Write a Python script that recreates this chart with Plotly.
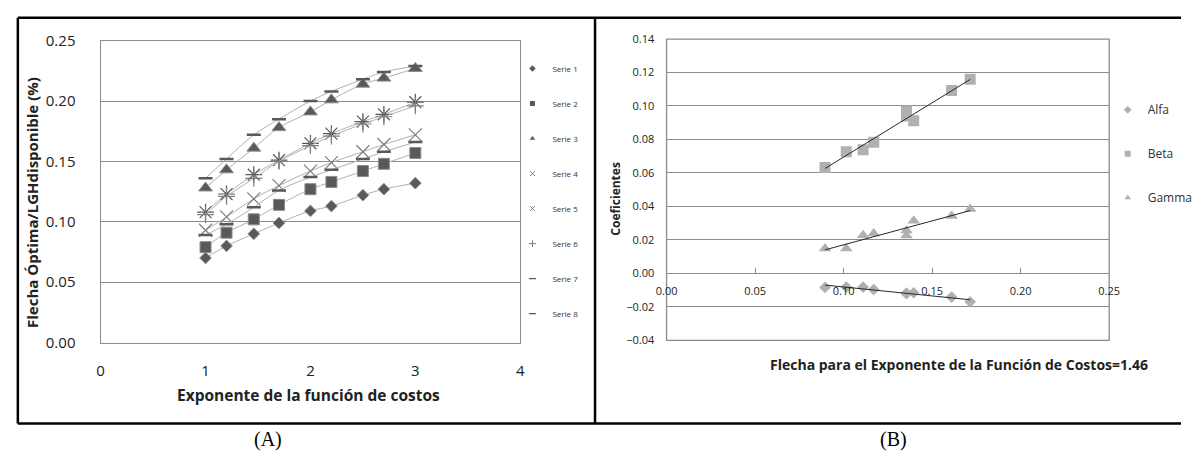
import numpy as np
import plotly.graph_objects as go

W, H = 1198, 468

# ---------------- data: panel A ----------------
exponente = [1.0, 1.2, 1.46, 1.7, 2.0, 2.2, 2.5, 2.7, 3.0]
serie1 = [0.070, 0.080, 0.090, 0.099, 0.109, 0.113, 0.122, 0.127, 0.132]
serie2 = [0.079, 0.091, 0.102, 0.114, 0.127, 0.133, 0.142, 0.148, 0.157]
serie3 = [0.128, 0.143, 0.161, 0.178, 0.191, 0.201, 0.214, 0.219, 0.227]
serie4 = [0.093, 0.104, 0.119, 0.130, 0.142, 0.149, 0.158, 0.164, 0.172]
serie5 = [0.108, 0.123, 0.139, 0.151, 0.165, 0.173, 0.183, 0.189, 0.199]
serie6 = [0.106, 0.121, 0.136, 0.150, 0.163, 0.171, 0.181, 0.187, 0.196]
serie7 = [0.136, 0.152, 0.172, 0.185, 0.200, 0.208, 0.218, 0.224, 0.229]
serie8 = [0.089, 0.098, 0.112, 0.126, 0.137, 0.143, 0.152, 0.158, 0.166]
series_names = ["Serie 1", "Serie 2", "Serie 3", "Serie 4", "Serie 5", "Serie 6", "Serie 7", "Serie 8"]

# ---------------- data: panel B ----------------
flecha = [0.0895, 0.1015, 0.111, 0.117, 0.1355, 0.1355, 0.1396, 0.161, 0.1715]
alfa = [-0.0084, -0.0082, -0.0082, -0.0097, -0.0122, -0.0118, -0.0116, -0.0142, -0.0170]
beta = [0.0632, 0.0726, 0.0739, 0.0783, 0.0970, 0.0940, 0.0912, 0.1092, 0.1160]
gamma = [0.0148, 0.0148, 0.0227, 0.0238, 0.0226, 0.0256, 0.0314, 0.0343, 0.0384]
coef_names = ["Alfa", "Beta", "Gamma"]


def fx(px):
    return px / W


def fy(py):
    return 1 - py / H


FONT = "Open Sans"
DARK = "#595959"
MID = "#8c8c8c"
LINE = "#b0b0b0"
GRID = "#8c8c8c"

fig = go.Figure()

styles = [
    dict(symbol="diamond", size=9, color=DARK, line=dict(color=MID, width=1)),
    dict(symbol="square", size=11, color=DARK, line=dict(color=MID, width=1)),
    dict(symbol="triangle-up", size=12, color=DARK, line=dict(color=MID, width=1)),
    dict(symbol="x-thin-open", size=13, color="#7f7f7f", line=dict(color="#7f7f7f", width=1.2)),
    dict(symbol="asterisk-open", size=14, color=DARK, line=dict(color=DARK, width=1.2)),
    dict(symbol="cross-thin-open", size=12, color="#7f7f7f", line=dict(color="#7f7f7f", width=1.2)),
    dict(symbol="line-ew-open", size=10, color=DARK, line=dict(color=DARK, width=2.5)),
    dict(symbol="line-ew-open", size=10, color=DARK, line=dict(color=DARK, width=2.5)),
]
legend_styles = [
    dict(symbol="diamond", size=5, color=DARK),
    dict(symbol="square", size=5, color=DARK),
    dict(symbol="triangle-up", size=5, color=DARK),
    dict(symbol="x-thin-open", size=5, color="#7f7f7f", line=dict(color="#7f7f7f", width=1)),
    dict(symbol="x-thin-open", size=5, color="#7f7f7f", line=dict(color="#7f7f7f", width=1)),
    dict(symbol="cross-thin-open", size=5, color="#7f7f7f", line=dict(color="#7f7f7f", width=1)),
    dict(symbol="line-ew-open", size=5, color=DARK, line=dict(color=DARK, width=1.2)),
    dict(symbol="line-ew-open", size=5, color=DARK, line=dict(color=DARK, width=1.2)),
]
all_series = [serie1, serie2, serie3, serie4, serie5, serie6, serie7, serie8]
for name, vals, st, lst in zip(series_names, all_series, styles, legend_styles):
    fig.add_trace(go.Scatter(
        x=exponente, y=vals, name=name, mode="lines+markers",
        line=dict(color=LINE, width=1, shape="spline"),
        marker=st, xaxis="x", yaxis="y", showlegend=False, legendgroup=name,
    ))
    # legend entry (small marker only, as in the original legend)
    fig.add_trace(go.Scatter(
        x=[None], y=[None], name=name, mode="markers", marker=lst,
        xaxis="x", yaxis="y", legend="legend", legendgroup=name, showlegend=True,
    ))

# panel B
rstyles = [
    dict(symbol="diamond", size=9, color=LINE),
    dict(symbol="square", size=11, color=LINE),
    dict(symbol="triangle-up", size=11, color=LINE),
]
for name, vals, st in zip(coef_names, [alfa, beta, gamma], rstyles):
    fig.add_trace(go.Scatter(
        x=flecha, y=vals, name=name, mode="markers", marker=st,
        xaxis="x2", yaxis="y2", showlegend=False, legendgroup=name,
    ))
    fig.add_trace(go.Scatter(
        x=[None], y=[None], name=name, mode="markers",
        marker=dict(symbol=st["symbol"], size=6, color=LINE),
        xaxis="x2", yaxis="y2", legend="legend2", legendgroup=name, showlegend=True,
    ))
for name, vals in zip(coef_names, [alfa, beta, gamma]):
    a, b = np.polyfit(flecha, vals, 1)
    xs = np.array([min(flecha), max(flecha)])
    fig.add_trace(go.Scatter(
        x=xs, y=a * xs + b, mode="lines", line=dict(color="#262626", width=1),
        xaxis="x2", yaxis="y2", showlegend=False, hoverinfo="skip",
    ))

# domains
xdom1 = [fx(91.7), fx(521)]
ydom1 = [fy(346.3), fy(31)]
xdom2 = [fx(670.7), fx(1123.5)]
ydom2 = [fy(344), fy(29.3)]
yr2 = [-0.04, 0.14]
zero_pos = ydom2[0] + (0 - yr2[0]) / (yr2[1] - yr2[0]) * (ydom2[1] - ydom2[0])

axis_common = dict(showline=True, linecolor=GRID, linewidth=1.3, mirror=True,
                   zeroline=False)

fig.update_layout(
    width=W, height=H, margin=dict(l=0, r=0, t=0, b=0),
    paper_bgcolor="white", plot_bgcolor="white",
    font=dict(family=FONT, color="#222222"),
    xaxis=dict(domain=xdom1, anchor="y", range=[0, 4], dtick=1, showgrid=False,
               tickfont=dict(size=15, family=FONT), ticklabelstandoff=14, **axis_common),
    yaxis=dict(domain=ydom1, anchor="x", range=[0, 0.25], dtick=0.05, tickformat=".2f",
               showgrid=True, gridcolor=GRID, gridwidth=1.3,
               tickfont=dict(size=15, family=FONT), ticklabelstandoff=21, **axis_common),
    xaxis2=dict(domain=xdom2, anchor="free", position=zero_pos, range=[0, 0.25], dtick=0.05,
                tickformat=".2f", showgrid=False, showline=True, linecolor=GRID, linewidth=1.3,
                zeroline=False, ticks="inside", ticklen=5, tickcolor=GRID,
                tickfont=dict(size=11, family=FONT), ticklabelstandoff=7),
    yaxis2=dict(domain=ydom2, anchor="x2", range=yr2, dtick=0.02, tickformat=".2f",
                showgrid=True, gridcolor=GRID, gridwidth=1.3, zeroline=False,
                showline=True, linecolor=GRID, linewidth=1.3,
                tickfont=dict(size=11, family=FONT), ticklabelstandoff=9),
    legend=dict(x=fx(513), y=fy(45), xanchor="left", yanchor="top",
                font=dict(size=8, family=FONT, color="#333333"),
                bgcolor="rgba(0,0,0,0)", tracegroupgap=16),
    legend2=dict(x=fx(1122), y=fy(88), xanchor="left", yanchor="top",
                 font=dict(size=12, family=FONT, color="#333333"),
                 bgcolor="rgba(0,0,0,0)", tracegroupgap=25),
    showlegend=True,
)

# plot box for panel B
fig.add_shape(type="rect", xref="x2 domain", yref="y2 domain", x0=0, x1=1, y0=0, y1=1,
              line=dict(color=GRID, width=1.3), layer="below")

# outer frames
frame = dict(color="black", width=2.5)
fig.add_shape(type="line", xref="paper", yref="paper", x0=fx(7), x1=fx(7), y0=fy(7), y1=fy(431), line=frame)
fig.add_shape(type="line", xref="paper", yref="paper", x0=fx(7), x1=fx(1197), y0=fy(7), y1=fy(7), line=frame)
fig.add_shape(type="line", xref="paper", yref="paper", x0=fx(7), x1=fx(1197), y0=fy(431), y1=fy(431), line=frame)
fig.add_shape(type="line", xref="paper", yref="paper", x0=fx(597.5), x1=fx(597.5), y0=fy(7), y1=fy(431), line=frame)

ann = []
ann.append(dict(text="<b>Flecha Óptima/LGHdisponible (%)</b>", x=fx(22), y=fy(200), textangle=-90,
                font=dict(size=15, family=FONT, color="#222222")))
ann.append(dict(text="<b>Exponente de la función de costos</b>", x=fx(304), y=fy(401),
                font=dict(size=15.5, family=FONT, color="#222222")))
ann.append(dict(text="<b>Coeficientes</b>", x=fx(619), y=fy(196), textangle=-90,
                font=dict(size=12, family=FONT, color="#222222")))
ann.append(dict(text="<b>Flecha para el Exponente de la Función de Costos=1.46</b>", x=fx(970), y=fy(369),
                font=dict(size=14, family=FONT, color="#222222")))
ann.append(dict(text="(A)", x=fx(263), y=fy(448), font=dict(size=20, family="Liberation Serif", color="black")))
ann.append(dict(text="(B)", x=fx(903), y=fy(448), font=dict(size=20, family="Liberation Serif", color="black")))
for a in ann:
    fig.add_annotation(xref="paper", yref="paper", showarrow=False, xanchor="center", yanchor="middle", **a)

fig.write_html("out.html")
